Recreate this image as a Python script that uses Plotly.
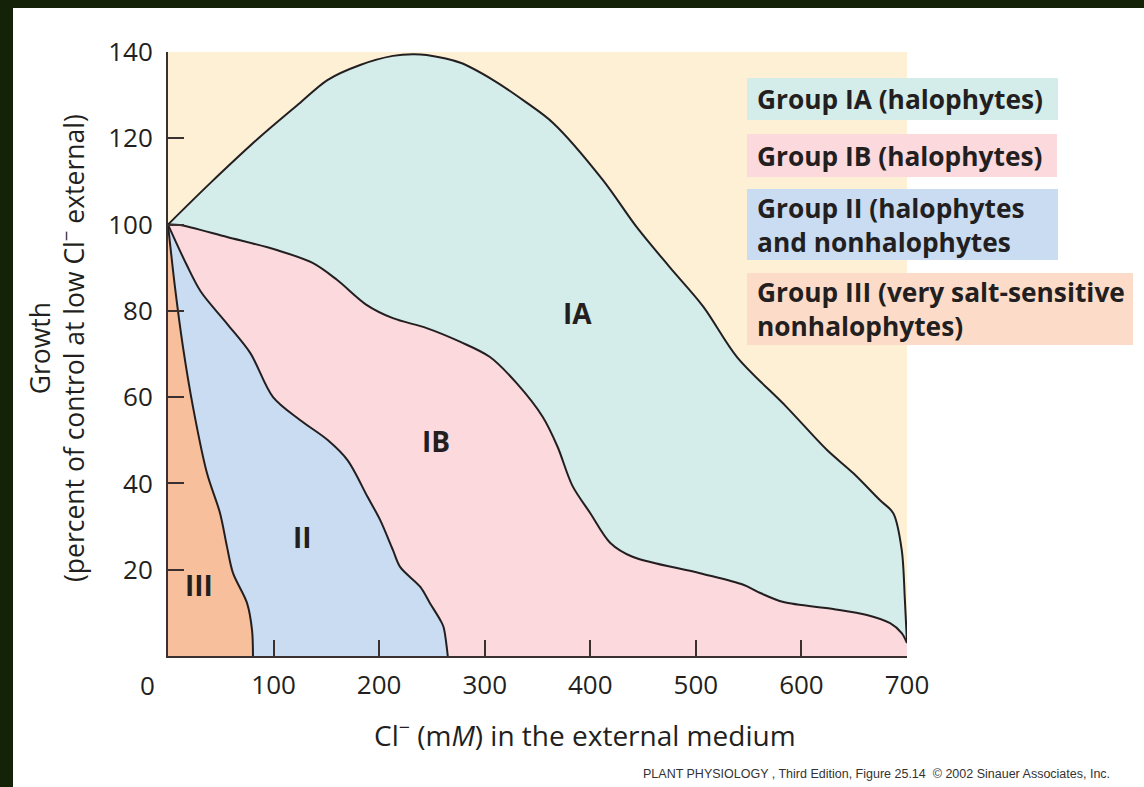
import plotly.graph_objects as go

# ---------------- data ----------------
# Cl- concentration (mM) vs growth (% of control) boundaries of each group
ia_x = [0, 40, 87, 125, 151, 182, 213, 232, 245, 277, 308, 340, 365, 412, 444, 475, 507, 539, 586, 624, 649, 674, 687, 695, 698, 700]
ia_y = [100, 109.6, 120.3, 128.2, 133.5, 137, 139.1, 139.5, 139.3, 137.5, 133.5, 128.2, 123.5, 110.3, 99.4, 90.2, 81, 69.3, 57.7, 47.8, 42.4, 36.2, 33.1, 24.6, 13, 3]

ib_x = [0, 11, 56, 103, 137, 160, 188, 213, 245, 277, 305, 330, 355, 369, 383, 400, 419, 440, 504, 545, 561, 583, 630, 662, 684, 695, 700]
ib_y = [100, 99.9, 97.1, 94.1, 91.1, 87.2, 81.4, 78.3, 76, 72.8, 69.3, 63.3, 55.4, 48.5, 39.5, 33.1, 26.2, 23, 19.2, 16.5, 14.6, 12.5, 10.9, 9.5, 7.6, 5.3, 3]

ii_x = [0, 18, 31, 56, 78, 99.5, 125, 151, 170, 189, 201, 213, 220, 239, 248, 258, 261, 265]
ii_y = [100, 90.5, 84.5, 77, 70.2, 60, 54.7, 50.1, 45.4, 36.9, 31.5, 24.6, 20.6, 16, 12.3, 8.3, 6.7, 0]

iii_x = [0, 6.6, 14.2, 23.7, 36.9, 49.3, 55.9, 61.6, 74.8, 79.6, 80.5]
iii_y = [100, 85.5, 71.6, 57.7, 42.4, 33.1, 25.3, 19.2, 12.3, 6, 0]

region_labels = ["IA", "IB", "II", "III"]
region_label_x = [388, 254, 127, 29.4]
region_label_y = [79.5, 49.8, 27.6, 16.5]

legend_texts = [
    "Group IA (halophytes)",
    "Group IB (halophytes)",
    "Group II (halophytes<br>and nonhalophytes",
    "Group III (very salt-sensitive<br>nonhalophytes)",
]

x_tickvals = [100, 200, 300, 400, 500, 600, 700]
x_ticktext = ["100", "200", "300", "400", "500", "600", "700"]
y_tickvals = [20, 40, 60, 80, 100, 120, 140]
y_ticktext = ["20", "40", "60", "80", "100", "120", "140"]

# ---------------- layout helpers ----------------
W, H = 1144, 787
L, R, T, B = 168, 237, 52, 131
PW = W - L - R
PH = H - T - B


def px(x):
    return (x - L) / PW


def py(y):
    return (H - B - y) / PH


LINE = "#231f20"
AXIS = "#3a3030"
TAN = "#fef0d5"
TEAL = "#d4ecea"
PINK = "#fbd9dd"
BLUE = "#c9dcf2"
ORANGE = "#f7bf9c"
III_BOX = "#fcdcc8"
FONT = "Open Sans"

fig = go.Figure()

for xs, ys, col in [(ia_x, ia_y, TEAL), (ib_x, ib_y, PINK), (ii_x, ii_y, BLUE), (iii_x, iii_y, ORANGE)]:
    fig.add_trace(go.Scatter(
        x=xs, y=ys, mode="lines", fill="tozeroy", fillcolor=col,
        line=dict(color=LINE, width=2, shape="spline", smoothing=0.9),
        hoverinfo="skip", showlegend=False,
    ))

annotations = []
for t, x, y in zip(region_labels, region_label_x, region_label_y):
    annotations.append(dict(x=x, y=y, xref="x", yref="y", text=t, showarrow=False,
                            xanchor="center", yanchor="middle",
                            font=dict(family=FONT, size=28, color=LINE, weight="bold")))

# legend boxes (pixel geometry)
boxes = [(747, 1058, 78, 120, TEAL), (747, 1057, 134, 177, PINK),
         (747, 1058, 189, 260, BLUE), (747, 1133, 273, 345, III_BOX)]
shapes = []
for (x0, x1, y0, y1, col), txt in zip(boxes, legend_texts):
    shapes.append(dict(type="rect", xref="paper", yref="paper", x0=px(x0), x1=px(x1),
                       y0=py(y1), y1=py(y0), fillcolor=col, line=dict(width=0), layer="below"))
    annotations.append(dict(x=px(755), y=py((y0 + y1) / 2), xref="paper", yref="paper",
                            xanchor="left", yanchor="middle", align="left", text=txt,
                            showarrow=False,
                            font=dict(family=FONT, size=26.3, color=LINE, weight="bold")))

# dark slide border (top and left)
shapes.append(dict(type="rect", xref="paper", yref="paper", x0=px(0), x1=px(W),
                   y0=py(8), y1=py(0), fillcolor="#142208", line=dict(width=0), layer="below"))
shapes.append(dict(type="rect", xref="paper", yref="paper", x0=px(0), x1=px(13),
                   y0=py(H), y1=py(0), fillcolor="#142208", line=dict(width=0), layer="below"))

# shared origin label
annotations.append(dict(x=px(147), y=py(685), xref="paper", yref="paper", text="0",
                        xanchor="center", yanchor="middle",
                        showarrow=False, font=dict(family=FONT, size=26, color=LINE)))
# axis titles
annotations.append(dict(x=px(585), y=py(733), xref="paper", yref="paper",
                        xanchor="center", yanchor="middle",
                        text="Cl<sup>−</sup> (m<i>M</i>) in the external medium",
                        showarrow=False, font=dict(family=FONT, size=28, color=LINE)))
annotations.append(dict(x=px(57), y=py(348), xref="paper", yref="paper", textangle=-90,
                        xanchor="center", yanchor="middle",
                        text="Growth<br>(percent of control at low Cl<sup>−</sup> external)",
                        showarrow=False, font=dict(family=FONT, size=26.5, color=LINE)))
# footer
annotations.append(dict(x=px(1112), y=py(774), xref="paper", yref="paper",
                        xanchor="right", yanchor="middle",
                        text="PLANT PHYSIOLOGY , Third Edition, Figure 25.14  © 2002 Sinauer Associates, Inc.",
                        showarrow=False, font=dict(family="Liberation Sans", size=12.5, color="#333333")))

axis_common = dict(showgrid=False, zeroline=False, showline=True, linecolor=AXIS, linewidth=2,
                   ticks="inside", ticklen=16, tickwidth=2, tickcolor=AXIS,
                   tickfont=dict(family=FONT, size=26, color=LINE))

fig.update_layout(
    width=W, height=H,
    margin=dict(l=L, r=R, t=T, b=B),
    paper_bgcolor="white", plot_bgcolor=TAN,
    xaxis=dict(range=[0, 700], tickvals=x_tickvals, ticktext=x_ticktext,
               ticklabelstandoff=5, **axis_common),
    yaxis=dict(range=[0, 140], tickvals=y_tickvals, ticktext=y_ticktext,
               ticklabelstandoff=8, **axis_common),
    shapes=shapes, annotations=annotations,
    showlegend=False,
)

fig.write_html("out.html", config={"displayModeBar": False},
               post_script="document.body.style.margin='0px';")
